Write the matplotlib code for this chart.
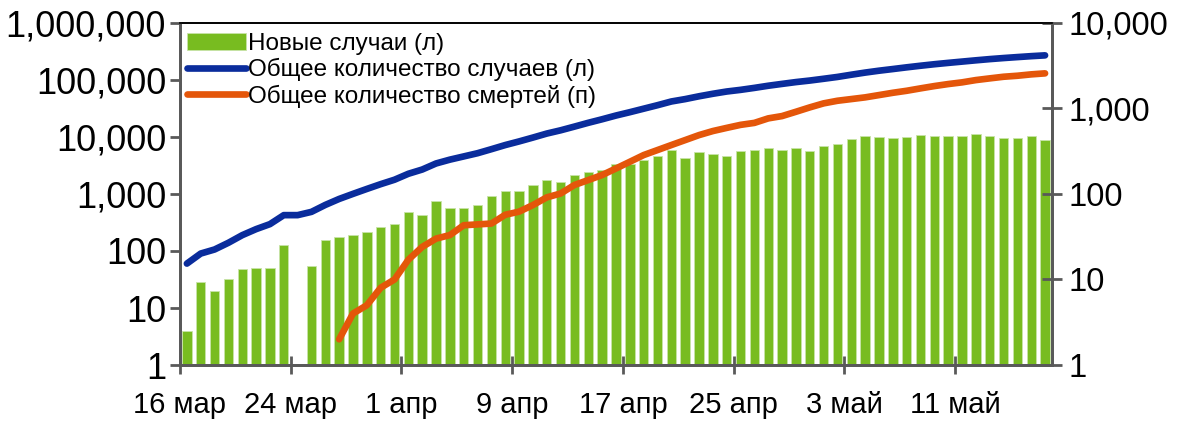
import numpy as np
import matplotlib
matplotlib.use("Agg")
import matplotlib.pyplot as plt
from matplotlib.ticker import FixedLocator, NullLocator

plt.rcParams['font.family'] = ['Liberation Sans', 'DejaVu Sans']

# ежедневные данные, 16 мар - 17 май
new_cases = [4, 29, 20, 32, 49, 51, 50, 126, np.nan, 54,
             155, 175, 187, 219, 258, 291, 478, 424, 745, 569,
             555, 627, 912, 1102, 1130, 1403, 1717, 1585, 2100, 2466,
             2673, 3310, 3400, 3900, 4630, 5820, 4170, 5440, 5090, 4630,
             5600, 5820, 6240, 5990, 6240, 5600, 6840, 7620, 9330, 10240,
             10100, 9720, 10100, 10800, 10240, 10400, 10540, 11100, 10540, 9560,
             9560, 10240, 8970]

total_cases = [60, 90, 106, 139, 189, 241, 295, 424, 424, 484,
               640, 815, 1000, 1220, 1480, 1770, 2250, 2670, 3410, 3980,
               4530, 5160, 6070, 7170, 8300, 9700, 11400, 13000, 15100, 17600,
               20300, 23600, 27000, 31100, 35800, 41600, 45800, 51300, 56800, 62200,
               66500, 72000, 78500, 84600, 91000, 96800, 104000, 112000, 122500, 133500,
               144000, 154000, 165000, 176000, 187000, 197500, 208000, 219000, 230000, 240000,
               249500, 259000, 267500]

total_deaths = [np.nan] * 11 + [2, 4, 5, 8, 10, 17, 24, 30, 33,
                43, 44, 45, 57, 62, 74, 91, 101, 127, 145,
                166, 198, 237, 284, 325, 372, 425, 486, 542, 590,
                640, 675, 762, 811, 910, 1024, 1141, 1224, 1281, 1341,
                1426, 1517, 1601, 1708, 1817, 1918, 2008, 2135, 2235, 2335,
                2399, 2490, 2558]

date_labels = ["16 мар", "24 мар", "1 апр", "9 апр", "17 апр", "25 апр", "3 май", "11 май"]

x = np.arange(len(new_cases))

fig = plt.figure(figsize=(11.84, 4.24), dpi=100)
ax = fig.add_axes([0.152, 0.139, 0.7365, 0.8075])
ax2 = ax.twinx()

bars = ax.bar(x, new_cases, width=0.68, color="#78BC20", edgecolor="#c8e3a8", linewidth=0.6,
              label="Новые случаи (л)", zorder=2)
l1, = ax.plot(x, total_cases, color="#0A2C9C", lw=4.8, solid_capstyle="round",
              label="Общее количество случаев (л)", zorder=3)
l2, = ax2.plot(x, total_deaths, color="#E4560A", lw=4.8, solid_capstyle="round",
               label="Общее количество смертей (п)", zorder=3)

ax.set_yscale("log")
ax2.set_yscale("log")
ax.set_ylim(1, 1e6)
ax2.set_ylim(1, 1e4)
ax.set_xlim(-0.5, len(new_cases) - 0.5)

ax.yaxis.set_major_locator(FixedLocator([1, 10, 100, 1e3, 1e4, 1e5, 1e6]))
ax.set_yticklabels(["1", "10", "100", "1,000", "10,000", "100,000", "1,000,000"])
ax.yaxis.set_minor_locator(NullLocator())
ax2.yaxis.set_major_locator(FixedLocator([1, 10, 100, 1e3, 1e4]))
ax2.set_yticklabels(["1", "10", "100", "1,000", "10,000"])
ax2.yaxis.set_minor_locator(NullLocator())

ax.set_xticks(np.arange(len(date_labels)) * 8 - 0.5)
ax.set_xticklabels(date_labels)

spine_col = "#595959"
for a in (ax, ax2):
    for s in ("left", "right", "bottom"):
        a.spines[s].set_color(spine_col)
        a.spines[s].set_linewidth(2)
    a.spines["top"].set_color("black")
    a.spines["top"].set_linewidth(1.2)

ax.tick_params(axis="y", direction="out", length=7, width=2, color=spine_col, labelsize=26, pad=3)
ax.tick_params(axis="x", direction="inout", length=13, width=2, color=spine_col, labelsize=21, pad=12)
ax2.tick_params(axis="y", direction="inout", length=14, width=2, color=spine_col, labelsize=23.5, pad=5)

leg = ax2.legend([bars, l1, l2], [bars.get_label(), l1.get_label(), l2.get_label()],
                 loc="upper left", bbox_to_anchor=(-0.011, 1.02), frameon=False,
                 fontsize=17.5, handlelength=2.4, handletextpad=0.1, labelspacing=0.14,
                 borderaxespad=0.3)

fig.savefig("out.png", dpi=100)
